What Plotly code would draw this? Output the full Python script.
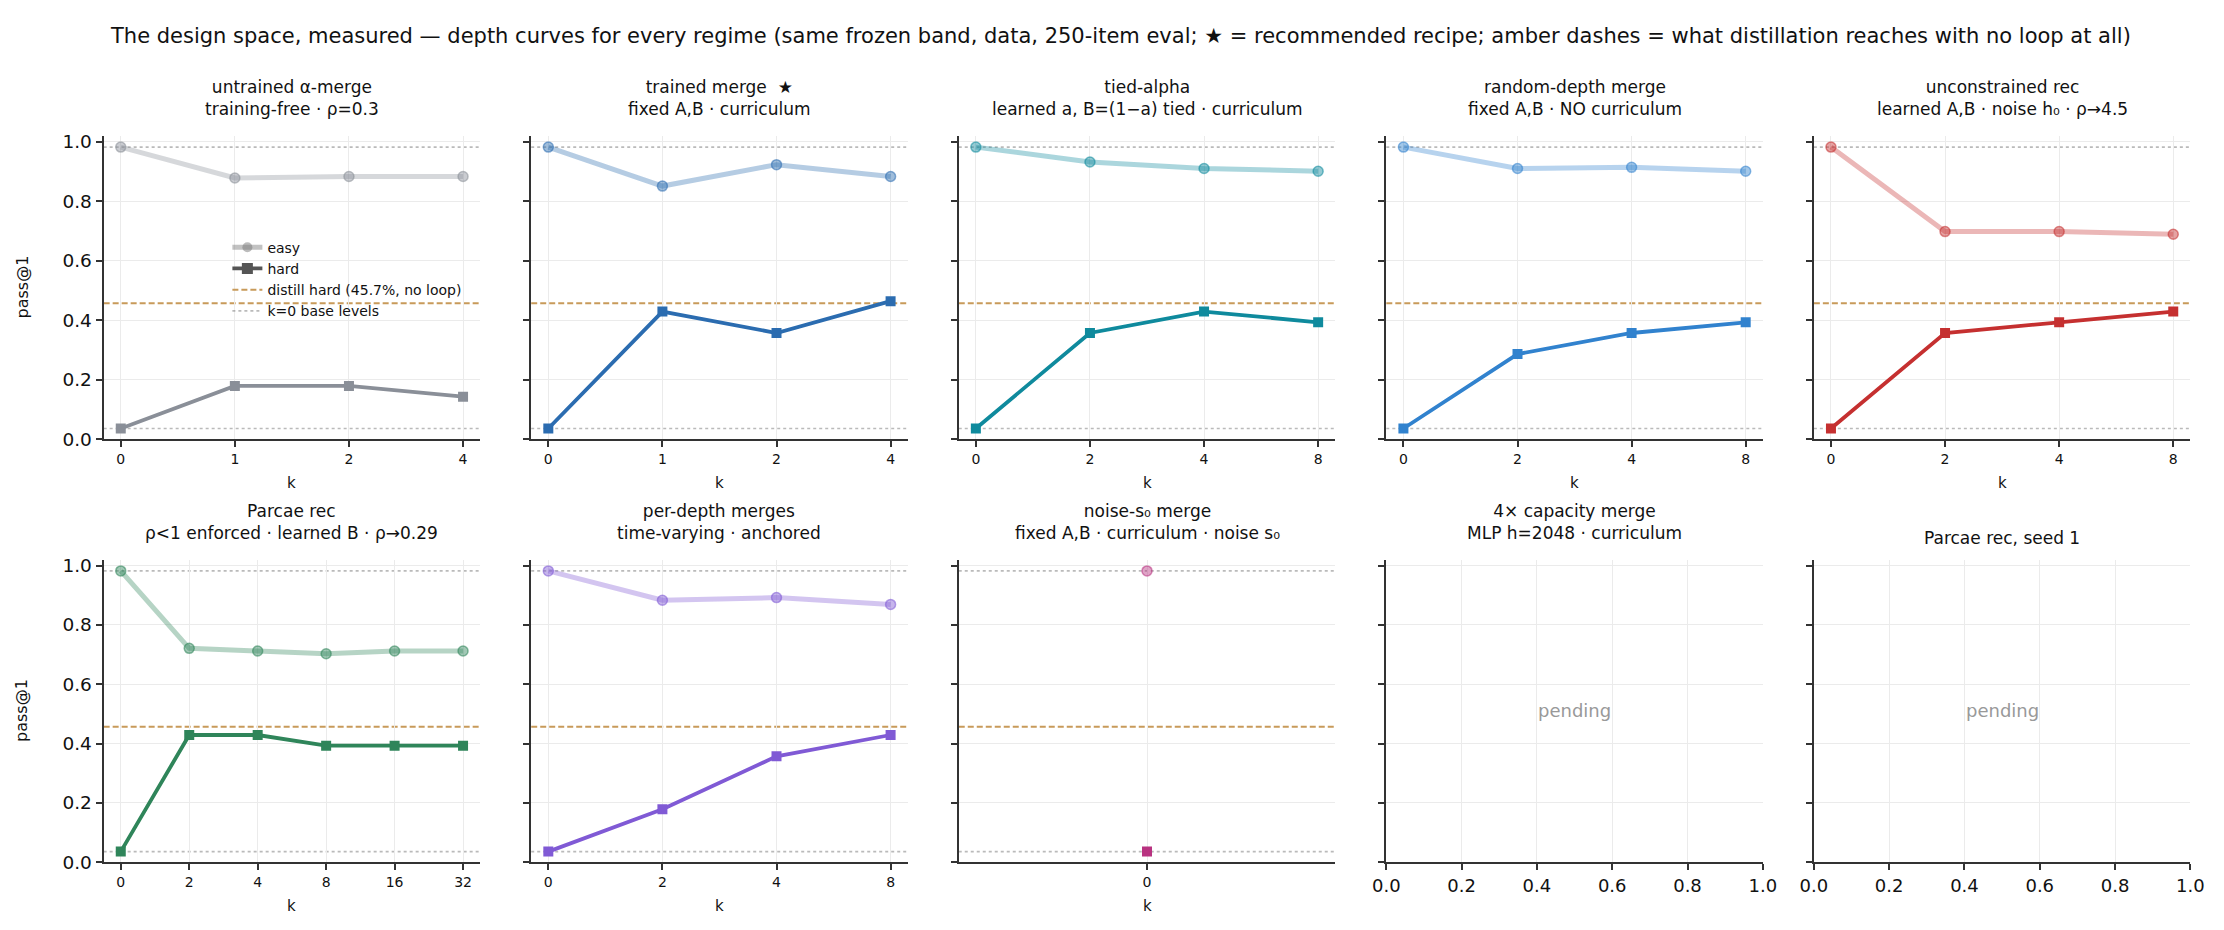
#!/usr/bin/env python3
"""Depth curves for every regime: pass@1 vs loop depth k, easy + hard splits."""

import plotly.graph_objects as go
from plotly.subplots import make_subplots

W, H = 2224, 930
FONT = "DejaVu Sans"

TITLE = ("The design space, measured — depth curves for every regime (same frozen band, data, "
         "250-item eval; ★ = recommended recipe; amber dashes = what distillation reaches with no loop at all)")

PANEL_TITLES = [
    "untrained α-merge<br>training-free · ρ=0.3",
    "trained merge  ★<br>fixed A,B · curriculum",
    "tied-alpha<br>learned a, B=(1−a) tied · curriculum",
    "random-depth merge<br>fixed A,B · NO curriculum",
    "unconstrained rec<br>learned A,B · noise h₀ · ρ→4.5",
    "Parcae rec<br>ρ<1 enforced · learned B · ρ→0.29",
    "per-depth merges<br>time-varying · anchored",
    "noise-s₀ merge<br>fixed A,B · curriculum · noise s₀",
    "4× capacity merge<br>MLP h=2048 · curriculum",
    "Parcae rec, seed 1",
]
PANEL_COLORS = ["#8a8f98", "#2b6cb0", "#0f8a9d", "#3182ce", "#c53030",
                "#2f855a", "#805ad5", "#b83280", "#888888", "#888888"]

PANEL_K = [
    [0, 1, 2, 4],
    [0, 1, 2, 4],
    [0, 2, 4, 8],
    [0, 2, 4, 8],
    [0, 2, 4, 8],
    [0, 2, 4, 8, 16, 32],
    [0, 2, 4, 8],
    [0],
    [],
    [],
]
EASY = [
    [0.982, 0.878, 0.883, 0.883],
    [0.982, 0.851, 0.923, 0.883],
    [0.982, 0.932, 0.910, 0.901],
    [0.982, 0.910, 0.914, 0.901],
    [0.982, 0.698, 0.698, 0.689],
    [0.982, 0.721, 0.712, 0.703, 0.712, 0.712],
    [0.982, 0.883, 0.892, 0.869],
    [0.982],
    [],
    [],
]
HARD = [
    [0.036, 0.179, 0.179, 0.143],
    [0.036, 0.429, 0.357, 0.464],
    [0.036, 0.357, 0.429, 0.393],
    [0.036, 0.286, 0.357, 0.393],
    [0.036, 0.357, 0.393, 0.429],
    [0.036, 0.429, 0.429, 0.393, 0.393, 0.393],
    [0.036, 0.179, 0.357, 0.429],
    [0.036],
    [],
    [],
]
BASE_EASY = 0.982
BASE_HARD = 0.036
DISTILL_HARD = 0.457
Y_TICKS = [0.0, 0.2, 0.4, 0.6, 0.8, 1.0]
EMPTY_X_TICKS = [0.0, 0.2, 0.4, 0.6, 0.8, 1.0]

# pixel layout of the grid (matches the 2224x930 page)
COL_LEFT0, COL_STEP, COL_W = 82.7, 433.0, 381.3
ROWS_PX = [(125.7, 433.7), (556.0, 863.3)]
DISTILL_COLOR = "#c89a5a"
BASE_COLOR = "rgba(140,140,140,0.6)"
AXIS_COLOR = "#333333"


def rgba(hex_color, a):
    h = hex_color.lstrip("#")
    r, g, b = int(h[0:2], 16), int(h[2:4], 16), int(h[4:6], 16)
    return f"rgba({r},{g},{b},{a})"


def fx(px):
    return px / W


def fy(px):
    return 1 - px / H


def build_figure():
    fig = make_subplots(rows=2, cols=5)

    for i in range(10):
        row, col = i // 5 + 1, i % 5 + 1
        n = i + 1
        left = COL_LEFT0 + (col - 1) * COL_STEP
        top, bottom = ROWS_PX[row - 1]
        ks = PANEL_K[i]
        color = PANEL_COLORS[i]
        xs = list(range(len(ks)))

        if ks:
            fig.add_trace(go.Scatter(
                x=xs, y=EASY[i], mode="lines+markers", showlegend=False,
                line=dict(color=rgba(color, 0.35), width=5),
                marker=dict(symbol="circle", size=10, color=rgba(color, 0.45),
                            line=dict(color=rgba(color, 0.55), width=1.5)),
                hovertemplate="easy k=%{text}: %{y:.3f}<extra></extra>", text=ks,
            ), row=row, col=col)
            fig.add_trace(go.Scatter(
                x=xs, y=HARD[i], mode="lines+markers", showlegend=False,
                line=dict(color=color, width=3.8),
                marker=dict(symbol="square", size=10, color=color),
                hovertemplate="hard k=%{text}: %{y:.3f}<extra></extra>", text=ks,
            ), row=row, col=col)
            for yv in (BASE_EASY, BASE_HARD):
                fig.add_hline(y=yv, row=row, col=col, layer="below",
                              line=dict(color=BASE_COLOR, width=1.6, dash="dot"))
            fig.add_hline(y=DISTILL_HARD, row=row, col=col, layer="below",
                          line=dict(color=DISTILL_COLOR, width=2, dash="6px,3px"))
            if len(ks) > 1:
                pad = 0.05 * (len(ks) - 1)
                xrange = [-pad, len(ks) - 1 + pad]
            else:
                xrange = [-1, 1]
            xaxis = dict(range=xrange, tickvals=xs, ticktext=[str(k) for k in ks],
                         tickfont=dict(size=14))
            fig.add_annotation(text="k", xref="paper", yref="paper",
                               x=fx(left + COL_W / 2), y=fy(bottom + 44),
                               xanchor="center", yanchor="middle",
                               showarrow=False, font=dict(size=15, color="#111"))
        else:
            # empty run: keep the axes visible
            fig.add_trace(go.Scatter(x=[None], y=[None], mode="markers", showlegend=False,
                                     hoverinfo="skip"), row=row, col=col)
            xaxis = dict(range=[0, 1], tickvals=EMPTY_X_TICKS,
                         ticktext=[f"{v:.1f}" for v in EMPTY_X_TICKS],
                         tickfont=dict(size=18))
            fig.add_annotation(text="pending", xref="paper", yref="paper",
                               x=fx(left + COL_W / 2), y=fy((top + bottom) / 2),
                               xanchor="center", yanchor="middle", showarrow=False,
                               font=dict(size=18, color="#999999"))

        fig.update_layout({
            f"xaxis{n}": dict(domain=[fx(left), fx(left + COL_W)], **xaxis),
            f"yaxis{n}": dict(domain=[fy(bottom), fy(top)], range=[0, 1.02],
                              tickvals=Y_TICKS, ticktext=[f"{v:.1f}" for v in Y_TICKS],
                              showticklabels=(col == 1), tickfont=dict(size=18.5)),
        })

        title_y = (top - 38) if "<br>" in PANEL_TITLES[i] else (top - 22)
        fig.add_annotation(text=PANEL_TITLES[i], xref="paper", yref="paper",
                           x=fx(left + COL_W / 2), y=fy(title_y),
                           xanchor="center", yanchor="middle",
                           showarrow=False, font=dict(size=17, color="#111"))

    fig.update_xaxes(showline=True, linewidth=2.2, linecolor=AXIS_COLOR, ticks="outside",
                     ticklen=6, tickwidth=2.2, tickcolor=AXIS_COLOR, showgrid=True,
                     gridcolor="#ebebeb", gridwidth=1.2, zeroline=False, mirror=False,
                     fixedrange=True)
    fig.update_yaxes(showline=True, linewidth=2.2, linecolor=AXIS_COLOR, ticks="outside",
                     ticklen=6, tickwidth=2.2, tickcolor=AXIS_COLOR, showgrid=True,
                     gridcolor="#ebebeb", gridwidth=1.2, zeroline=False, mirror=False,
                     fixedrange=True)

    # y label for each row
    for top, bottom in ROWS_PX:
        fig.add_annotation(text="pass@1", xref="paper", yref="paper", x=fx(0),
                           y=fy((top + bottom) / 2), textangle=-90, showarrow=False,
                           xanchor="center", yanchor="middle",
                           font=dict(size=16, color="#111"))

    # legend entries (styling only)
    legend_items = [
        ("easy", dict(mode="lines+markers", line=dict(color=rgba("#777777", 0.45), width=5),
                      marker=dict(symbol="circle", size=10, color=rgba("#777777", 0.5)))),
        ("hard", dict(mode="lines+markers", line=dict(color="#555555", width=3.8),
                      marker=dict(symbol="square", size=11, color="#555555"))),
        ("distill hard (45.7%, no loop)", dict(mode="lines",
                                              line=dict(color=DISTILL_COLOR, width=2, dash="6px,3px"))),
        ("k=0 base levels", dict(mode="lines", line=dict(color=BASE_COLOR, width=1.6, dash="dot"))),
    ]
    for name, style in legend_items:
        fig.add_trace(go.Scatter(x=[None], y=[None], name=name, showlegend=True, **style),
                      row=1, col=1)

    fig.add_annotation(text=TITLE, xref="paper", yref="paper", x=0.5, y=fy(24),
                       xanchor="center", yanchor="middle",
                       showarrow=False, font=dict(size=21, color="#111"))

    fig.update_layout(
        width=W, height=H,
        margin=dict(l=0, r=0, t=0, b=0),
        paper_bgcolor="white", plot_bgcolor="white",
        font=dict(family=FONT, color="#111"),
        legend=dict(x=fx(208), y=fy(223), xanchor="left", yanchor="top",
                    bgcolor="rgba(0,0,0,0)", font=dict(size=14), itemwidth=30,
                    tracegroupgap=0),
        hovermode="closest",
    )
    return fig


def main():
    fig = build_figure()
    fig.write_html("out.html")


if __name__ == "__main__":
    main()
